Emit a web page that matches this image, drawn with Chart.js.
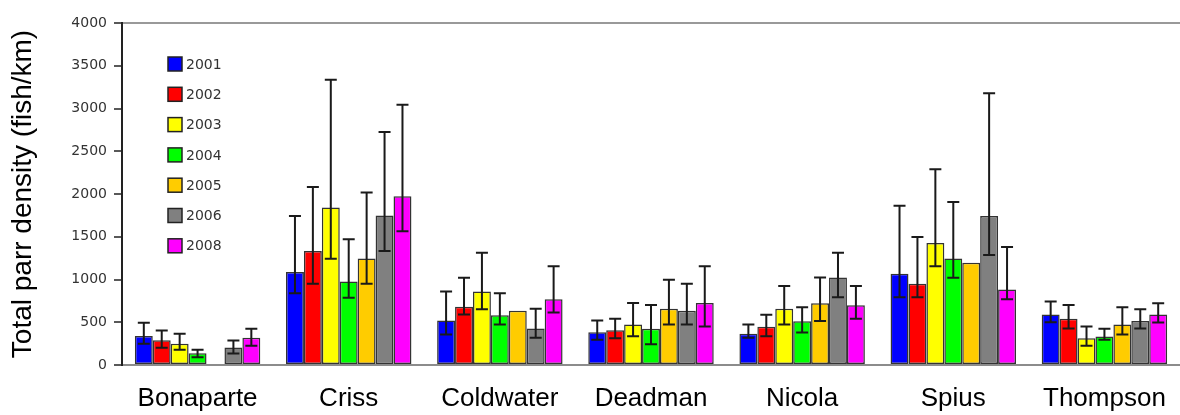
<!DOCTYPE html>
<html>
<head>
<meta charset="utf-8">
<script src="https://cdn.jsdelivr.net/npm/chart.js@4/dist/chart.umd.min.js"></script>
<style>
  html, body { margin: 0; padding: 0; background: #fff; }
  canvas { display: block; }
</style>
</head>
<body>
<canvas id="parrChart" width="1180" height="415"></canvas>
<script>
// Rivers and sampling years
const categories = ['Bonaparte', 'Criss', 'Coldwater', 'Deadman', 'Nicola', 'Spius', 'Thompson'];
const years = ['2001', '2002', '2003', '2004', '2005', '2006', '2008'];

// Mean parr density per year (fish/km), one value per river
const d2001 = [340, 1088, 520, 384, 365, 1067, 590];
const d2002 = [290, 1333, 680, 407, 447, 950, 540];
const d2003 = [248, 1842, 860, 474, 657, 1427, 313];
const d2004 = [138, 977, 582, 424, 512, 1246, 333];
const d2005 = [null, 1246, 634, 657, 722, 1196, 474];
const d2006 = [205, 1749, 427, 634, 1023, 1744, 515];
const d2008 = [318, 1975, 769, 726, 699, 884, 590];

// Error bar upper ends
const u2001 = [493, 1744, 860, 520, 474, 1863, 743];
const u2002 = [404, 2082, 1020, 540, 587, 1496, 703];
const u2003 = [365, 3336, 1313, 726, 925, 2289, 450];
const u2004 = [178, 1472, 840, 703, 676, 1905, 424];
const u2005 = [null, 2017, null, 996, 1023, null, 676];
const u2006 = [287, 2724, 657, 950, 1313, 3177, 652];
const u2008 = [424, 3045, 1155, 1155, 925, 1380, 723];

// Error bar lower ends
const l2001 = [248, 840, 357, 295, 318, 791, 500];
const l2002 = [201, 950, 590, 313, 337, 791, 427];
const l2003 = [178, 1243, 652, 337, 474, 1154, 225];
const l2004 = [91, 787, 474, 243, 380, 1020, 295];
const l2005 = [null, 950, null, 474, 515, null, 357];
const l2006 = [135, 1333, 318, 474, 791, 1288, 427];
const l2008 = [225, 1564, 614, 450, 540, 769, 497];

// Y axis ticks
const yTicks = [0, 500, 1000, 1500, 2000, 2500, 3000, 3500, 4000];

const means = [d2001, d2002, d2003, d2004, d2005, d2006, d2008];
const uppers = [u2001, u2002, u2003, u2004, u2005, u2006, u2008];
const lowers = [l2001, l2002, l2003, l2004, l2005, l2006, l2008];
const colors = ['#0000ff', '#ff0000', '#ffff00', '#00ff00', '#ffcc00', '#808080', '#ff00ff'];

const tickFont = { family: '"DejaVu Sans", Verdana, sans-serif', size: 14 };

// Error bars drawn over the bars
const errorBars = {
    id: 'errorBars',
    afterDatasetsDraw(chart) {
        const ctx = chart.ctx;
        const y = chart.scales.y;
        ctx.save();
        ctx.strokeStyle = '#1a1a1a';
        ctx.lineWidth = 2;
        chart.data.datasets.forEach((ds, i) => {
            const meta = chart.getDatasetMeta(i);
            meta.data.forEach((bar, j) => {
                const hi = uppers[i][j], lo = lowers[i][j];
                if (hi == null || lo == null) return;
                const yHi = y.getPixelForValue(hi);
                const yLo = y.getPixelForValue(lo);
                ctx.beginPath();
                ctx.moveTo(bar.x, yHi); ctx.lineTo(bar.x, yLo);
                ctx.moveTo(bar.x - 6, yHi); ctx.lineTo(bar.x + 6, yHi);
                ctx.moveTo(bar.x - 6, yLo); ctx.lineTo(bar.x + 6, yLo);
                ctx.stroke();
            });
        });
        ctx.restore();
    }
};

// Legend sits inside the plot, top left
const insideLegend = {
    id: 'insideLegend',
    afterDraw(chart) {
        const ctx = chart.ctx;
        ctx.save();
        ctx.font = tickFont.size + 'px ' + tickFont.family;
        ctx.textBaseline = 'middle';
        chart.data.datasets.forEach((ds, i) => {
            const cy = 64 + i * 30.3;
            ctx.fillStyle = ds.backgroundColor;
            ctx.fillRect(168, cy - 7, 14, 14);
            ctx.strokeStyle = '#222';
            ctx.lineWidth = 1.5;
            ctx.strokeRect(168, cy - 7, 14, 14);
            ctx.fillStyle = '#333';
            ctx.fillText(ds.label, 186, cy + 1);
        });
        ctx.restore();
    }
};

new Chart(document.getElementById('parrChart').getContext('2d'), {
    type: 'bar',
    data: {
        labels: categories,
        datasets: years.map((yr, i) => ({
            label: yr,
            data: means[i],
            backgroundColor: colors[i],
            borderColor: '#333',
            borderWidth: 1.5,
            borderSkipped: false,
            categoryPercentage: 0.83,
            barPercentage: 1
        }))
    },
    options: {
        responsive: false,
        animation: false,
        devicePixelRatio: 1,
        layout: { padding: { top: 23, right: 0, left: 0, bottom: 0 } },
        plugins: {
            legend: { display: false },
            tooltip: { enabled: false }
        },
        scales: {
            x: {
                grid: { display: false },
                border: { display: true, color: '#8c8c8c', width: 2 },
                ticks: {
                    color: '#000',
                    font: { family: 'Arial, "Liberation Sans", sans-serif', size: 26 },
                    padding: 10,
                    maxRotation: 0
                },
                afterFit(scale) { scale.height = 50; }
            },
            y: {
                min: 0,
                max: 4000,
                afterBuildTicks(scale) { scale.ticks = yTicks.map(v => ({ value: v })); },
                afterFit(scale) { scale.width = 122; },
                ticks: { color: '#333', font: tickFont, padding: 7, callback: v => String(v) },
                grid: {
                    drawOnChartArea: true,
                    color: ctx => ctx.tick && ctx.tick.value === 4000 ? '#999' : 'rgba(0,0,0,0)',
                    lineWidth: 2,
                    tickLength: 8,
                    tickColor: '#222',
                    tickWidth: 1.5
                },
                border: { display: true, color: '#222', width: 2 },
                title: {
                    display: true,
                    text: 'Total parr density (fish/km)',
                    color: '#000',
                    font: { family: 'Arial, "Liberation Sans", sans-serif', size: 28 },
                    padding: { top: 6, bottom: 0 }
                }
            }
        }
    },
    plugins: [errorBars, insideLegend]
});
</script>
</body>
</html>
